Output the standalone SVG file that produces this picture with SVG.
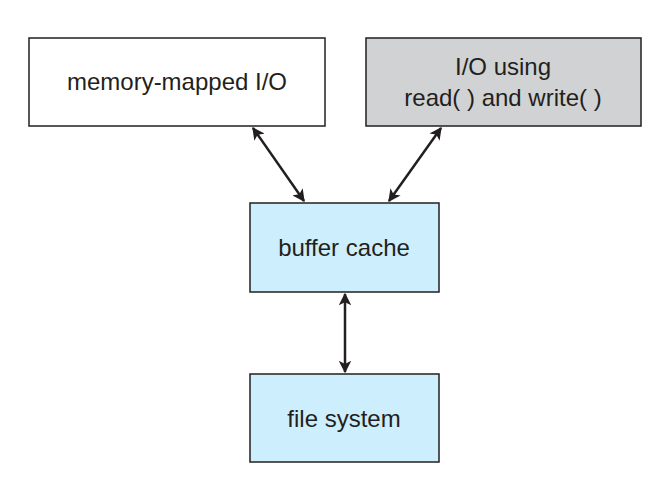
<svg xmlns="http://www.w3.org/2000/svg" width="670" height="498" viewBox="0 0 670 498">
<style>
.box{stroke:#231f20;stroke-width:1.5}
.t{font-family:"Liberation Sans",Arial,sans-serif;font-size:24px;fill:#231f20;text-anchor:middle}
.c{stroke:#231f20;stroke-width:2.5;fill:none;marker-start:url(#a);marker-end:url(#a)}
</style>
<defs>
<marker id="a" viewBox="0 0 10 10" refX="9" refY="5" markerWidth="5" markerHeight="5" orient="auto-start-reverse" markerUnits="strokeWidth">
<path d="M0,0 L10,5 L0,10 L2.5,5 z" fill="#231f20"/>
</marker>
</defs>
<rect width="670" height="498" fill="#fff"/>
<g id="mmio"><rect class="box" x="29" y="38" width="296" height="88" fill="#fff"/><text class="t" x="177" y="90">memory-mapped I/O</text></g>
<g id="rw"><rect class="box" x="366" y="38" width="275" height="88" fill="#d1d2d4"/><text class="t" x="503" y="75">I/O using</text><text class="t" x="503" y="106">read( ) and write( )</text></g>
<g id="bc"><rect class="box" x="250" y="203" width="189" height="89" fill="#cdeefc"/><text class="t" x="344" y="256">buffer cache</text></g>
<g id="fs"><rect class="box" x="250" y="374" width="189" height="88" fill="#cdeefc"/><text class="t" x="344" y="427">file system</text></g>
<g id="connectors">
<line class="c" x1="253" y1="128" x2="304" y2="201"/>
<line class="c" x1="441" y1="128" x2="389" y2="201"/>
<line class="c" x1="345" y1="294" x2="345" y2="372"/>
</g>
</svg>
